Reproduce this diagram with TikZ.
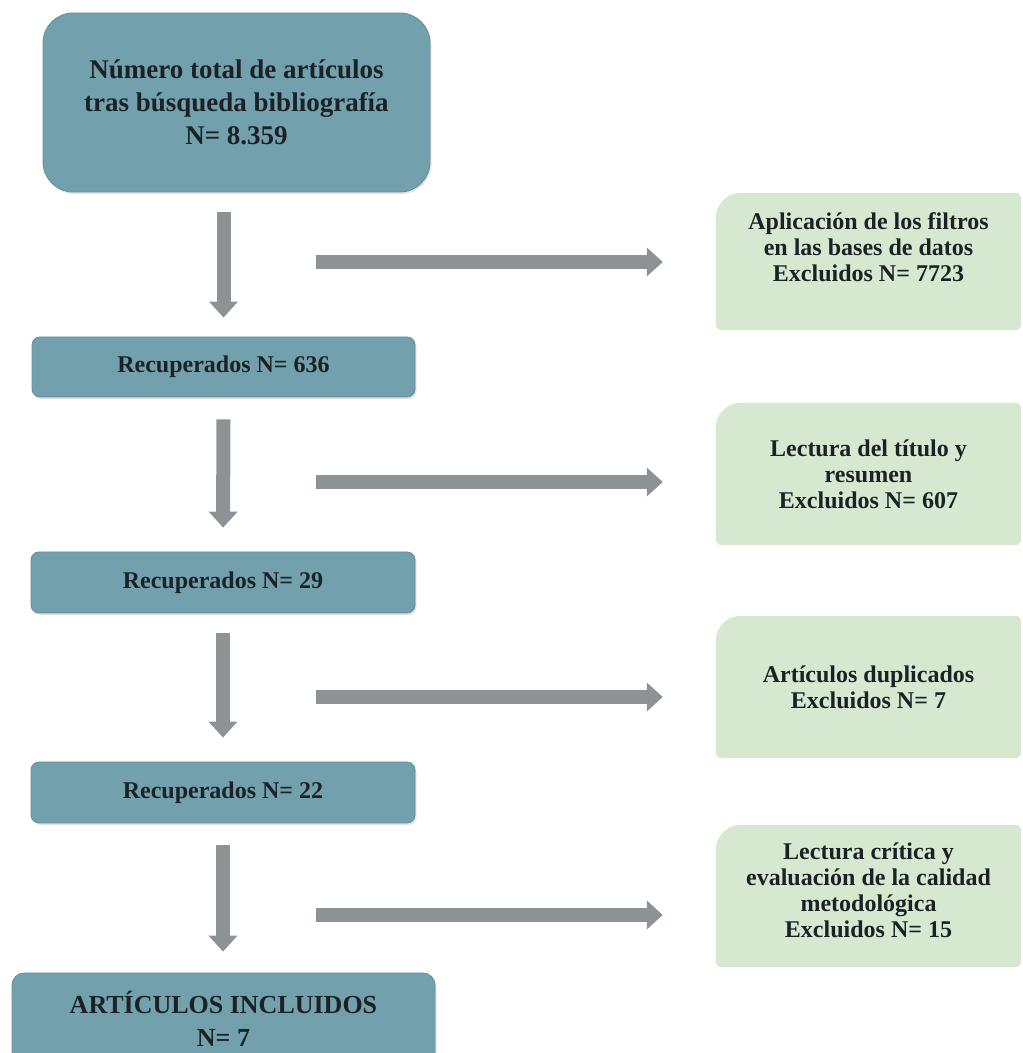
\documentclass[tikz,border=0pt]{standalone}
\usepackage{fontspec}
\setmainfont{Liberation Serif}
\usetikzlibrary{arrows.meta,backgrounds,shadows}
\definecolor{bluebox}{HTML}{72A0AD}
\definecolor{blueedge}{HTML}{628F9D}
\definecolor{greenbox}{HTML}{D7E8D1}
\definecolor{arrowgray}{HTML}{8D9295}
\definecolor{txt}{HTML}{1B2226}
\newcommand\gfill[1]{%
  \fill[greenbox] ([yshift=6pt]#1.south west) -- ([yshift=-25pt]#1.north west)
    arc[start angle=180,end angle=90,radius=25pt] -- ([xshift=-6pt]#1.north east)
    arc[start angle=90,end angle=0,radius=6pt] -- ([yshift=6pt]#1.south east)
    arc[start angle=0,end angle=-90,radius=6pt] -- ([xshift=6pt]#1.south west)
    arc[start angle=270,end angle=180,radius=6pt] -- cycle;}
\begin{document}
\begin{tikzpicture}[x=1pt,y=1pt,
  bluenode/.style={draw=blueedge, line width=0.8pt, fill=bluebox, inner sep=0pt,
    align=center, text=txt, font=\bfseries\fontsize{24pt}{26pt}\selectfont,
    drop shadow={shadow xshift=1.5pt,shadow yshift=-2pt,opacity=0.22}},
  bigfont/.style={font=\bfseries\fontsize{27pt}{33pt}\selectfont},
  greentext/.style={align=center, text=txt, font=\bfseries\fontsize{24pt}{26pt}\selectfont},
  greennode/.style={greentext, inner sep=0pt, minimum width=305pt, minimum height=142pt},
  flowarrow/.style={draw=arrowgray, line width=14pt, line cap=butt,
    -{Triangle[length=16pt,width=28pt]}},
]
\useasboundingbox (0,0) rectangle (1023,1053);
\clip (0,0) rectangle (1023,1053);

% main column
\node[bluenode, bigfont, rounded corners=30pt, minimum width=387pt, minimum height=179pt]
  (top) at (236.5,950.5) {Número total de artículos\\tras búsqueda bibliografía\\N= 8.359};
\node[bluenode, rounded corners=8pt, minimum width=383pt, minimum height=60pt]
  (r1) at (223.5,686) {Recuperados N= 636};
\node[bluenode, rounded corners=8pt, minimum width=384pt, minimum height=61pt]
  (r2) at (223,470.5) {Recuperados N= 29};
\node[bluenode, rounded corners=8pt, minimum width=384pt, minimum height=61pt]
  (r3) at (223,260.5) {Recuperados N= 22};
\node[bluenode, rounded corners=12pt, minimum width=423pt, minimum height=92pt,
  font=\bfseries\fontsize{26pt}{33pt}\selectfont]
  (fin) at (223.5,34) {ARTÍCULOS INCLUIDOS\\N= 7};

% exclusion boxes
\node[greennode, minimum height=137pt,
  label={[greentext, yshift=14pt]center:Aplicación de los filtros\\en las bases de datos\\Excluidos N= 7723}]
  (g1) at (868.5,791.5) {};
\node[greennode] (g2) at (868.5,579) {Lectura del título y\\resumen\\Excluidos N= 607};
\node[greennode] (g3) at (868.5,366) {Artículos duplicados\\Excluidos N= 7};
\node[greennode,
  label={[greentext, yshift=6pt]center:Lectura crítica y\\evaluación de la calidad\\metodológica\\Excluidos N= 15}]
  (g4) at (868.5,157) {};

\begin{scope}[on background layer]
  \gfill{g1}\gfill{g2}\gfill{g3}\gfill{g4}
\end{scope}

% vertical arrows
\draw[flowarrow, shorten <=20pt, shorten >=19pt] (top.south -| r1.north) -- (r1.north);
\draw[flowarrow, shorten <=22pt, shorten >=24pt] (r1.south) -- (r2.north);
\draw[flowarrow, shorten <=20pt, shorten >=24pt] (r2.south) -- (r3.north);
\draw[flowarrow, shorten <=22pt, shorten >=21pt] (r3.south) -- (fin.north -| r3.south);

% horizontal arrows
\coordinate (h1) at (316,791);
\coordinate (h2) at (316,571);
\coordinate (h3) at (316,356);
\coordinate (h4) at (316,138);
\draw[flowarrow, shorten >=53pt] (h1) -- (h1 -| g1.west);
\draw[flowarrow, shorten >=53pt] (h2) -- (h2 -| g2.west);
\draw[flowarrow, shorten >=53pt] (h3) -- (h3 -| g3.west);
\draw[flowarrow, shorten >=53pt] (h4) -- (h4 -| g4.west);
\end{tikzpicture}
\end{document}
